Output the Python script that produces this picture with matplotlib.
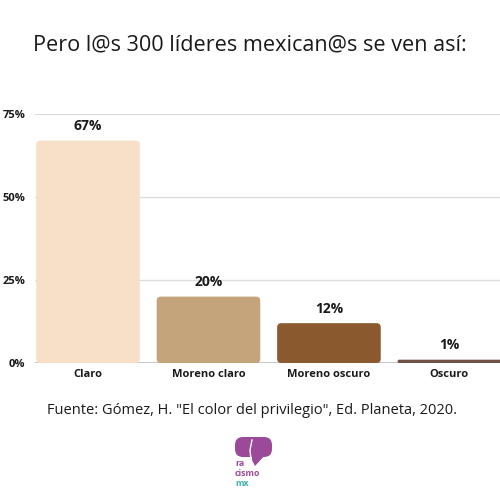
import matplotlib.pyplot as plt
from matplotlib.patches import FancyBboxPatch, Polygon

plt.rcParams['font.family'] = ['Open Sans', 'DejaVu Sans']

categorias = ['Claro', 'Moreno claro', 'Moreno oscuro', 'Oscuro']
porcentajes = [67, 20, 12, 1]
colores = ['#F8DFC7', '#C4A47A', '#8A5A2E', '#6E5248']
ticks_y = [0, 25, 50, 75]

fig = plt.figure(figsize=(5, 5), dpi=100)
fig.patch.set_facecolor('white')
ax = fig.add_axes([0.07, 0.274, 0.93, 0.498])

bars = ax.bar(range(len(categorias)), porcentajes, width=0.86, color='none', zorder=3)
# esquinas redondeadas
px_x = 121.0
px_y = 249.0 / 75
for b, c in zip(bars, colores):
    r = min(0.035, b.get_height() * px_y / px_x / 2 * 0.9)
    p = FancyBboxPatch((b.get_x(), b.get_y()), b.get_width(), b.get_height(),
                       boxstyle='round,pad=0,rounding_size=%f' % r,
                       mutation_aspect=px_x / px_y, fc=c, ec='none', zorder=3)
    ax.add_patch(p)

for i, v in enumerate(porcentajes):
    ax.annotate('%d%%' % v, (i, v), xytext=(0, 10.5), textcoords='offset points',
                ha='center', va='center', fontsize=10, fontweight='bold', color='#1a1a1a')

ax.set_xlim(-0.44, 3.42)
ax.set_ylim(0, 75)
ax.set_yticks(ticks_y)
ax.set_yticklabels(['%d%%' % t for t in ticks_y], fontsize=8, fontweight='bold', color='#1a1a1a')
ax.set_xticks(range(len(categorias)))
ax.set_xticklabels(categorias, fontsize=8, fontweight='bold', color='#1a1a1a')
ax.tick_params(length=0, pad=4)
ax.tick_params(axis='y', pad=7)
for yy in ticks_y[1:]:
    ax.axhline(yy, color='#dddddd', lw=1, zorder=1)
ax.axhline(0, color='#bbbbbb', lw=1.2, zorder=2)
for s in ax.spines.values():
    s.set_visible(False)

fig.text(0.5, 0.91, 'Pero l@s 300 líderes mexican@s se ven así:', ha='center', va='center',
         fontsize=15.6, color='#1a1a1a')
fig.text(0.505, 0.178, 'Fuente: Gómez, H. "El color del privilegio", Ed. Planeta, 2020.',
         ha='center', va='center', fontsize=10.5, color='#1a1a1a')

# logo (coordenadas en pixeles)
lg = fig.add_axes([0, 0, 1, 1], facecolor='none')
lg.set_xlim(0, 500)
lg.set_ylim(500, 0)
lg.axis('off')
morado = '#9A4A99'
lg.add_patch(FancyBboxPatch((235, 437), 37, 20, boxstyle='round,pad=0,rounding_size=8',
                            fc=morado, ec='none'))
lg.add_patch(Polygon([(252, 450), (268, 452), (255, 466), (252, 460)], closed=True,
                     fc=morado, ec='none'))
lg.plot([252, 250, 251], [440, 450, 460], color='white', lw=1)
lg.text(235, 464, 'ra', fontsize=6.3, fontweight='bold', color=morado, va='center')
lg.text(235, 474, 'cismo', fontsize=6.3, fontweight='bold', color=morado, va='center')
lg.text(235, 484, 'mx', fontsize=6.3, fontweight='bold', color='#3BB3A8', va='center')

fig.savefig('out.png', dpi=100)
